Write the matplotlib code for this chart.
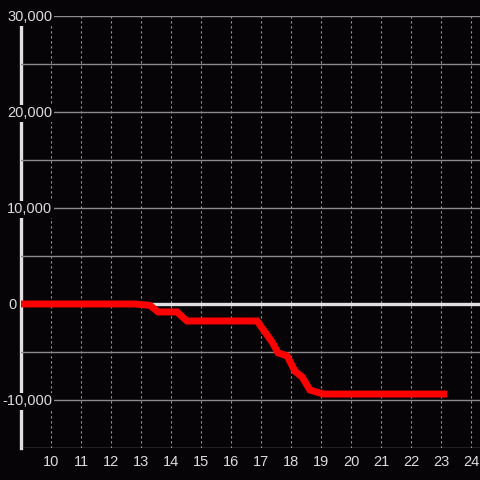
import matplotlib
matplotlib.use('Agg')
import matplotlib.pyplot as plt
from matplotlib.ticker import FuncFormatter, MultipleLocator
from matplotlib.transforms import ScaledTranslation

plt.rcParams['font.family'] = ['Liberation Sans', 'DejaVu Sans']

# readings
hours = [9, 12.8, 13.3, 13.57, 14.2, 14.53, 16.87, 17.37, 17.57, 17.87,
         18.13, 18.37, 18.63, 19.07, 23.2]
pnl = [0, 0, -150, -830, -830, -1770, -1770, -3960, -5100, -5400,
       -7000, -7600, -8960, -9380, -9380]
xticks = list(range(10, 25))
yticks = [-10000, 0, 10000, 20000, 30000]

bg = '#060407'
fig = plt.figure(figsize=(4.8, 4.8), dpi=100, facecolor=bg)
ax = fig.add_axes([0.04375, 0.0667, 0.95625, 0.9], facecolor=bg)

ax.set_xlim(9, 24.3)
ax.set_ylim(-15000, 30000)

ax.set_yticks(yticks)
ax.yaxis.set_minor_locator(MultipleLocator(5000))
ax.set_xticks(xticks)
ax.yaxis.set_major_formatter(FuncFormatter(lambda v, p: f'{int(v):,}'))

ax.grid(axis='y', which='both', color='#8a8a8a', lw=1, ls='-')
ax.grid(axis='x', which='major', color='#9a9a9a', lw=0.8, ls=(0, (2, 2.5)))

for s in ['top', 'right', 'bottom']:
    ax.spines[s].set_visible(False)
ax.spines['left'].set_color('#e0e0e0')
ax.spines['left'].set_linewidth(2.4)
ax.spines['left'].set_zorder(1.0)
ax.xaxis.set_zorder(1.2)
ax.yaxis.set_zorder(1.5)

ax.axhline(0, color='#e0e0e0', lw=2.4, zorder=2)
ax.plot(hours, pnl, color='#ff0000', lw=5.0, solid_joinstyle='miter',
        solid_capstyle='butt', zorder=3)

ax.tick_params(axis='y', which='both', length=0, pad=-22.5, labelsize=10.5,
               labelcolor='#dcdcdc')
ax.tick_params(axis='x', which='both', length=0, pad=5, labelsize=10.5,
               labelcolor='#dcdcdc')

fig.canvas.draw()
for lab in ax.get_yticklabels():
    lab.set_bbox(dict(facecolor=bg, edgecolor='none', pad=1))
    if lab.get_text() == '0':
        lab.set_transform(lab.get_transform() +
                          ScaledTranslation(-0.36, 0, fig.dpi_scale_trans))

fig.savefig('out.png', dpi=100, facecolor=bg)
